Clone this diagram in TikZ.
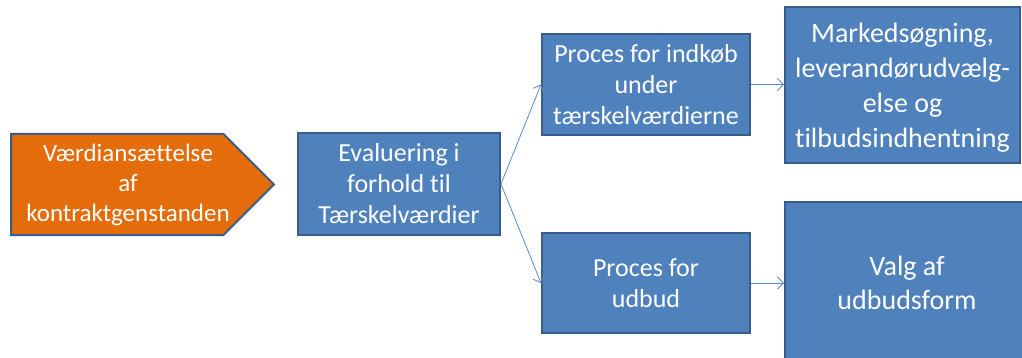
\documentclass[tikz,border=0pt]{standalone}
\usepackage{fontspec}
\setmainfont{Carlito}[Ligatures=NoCommon]
\usetikzlibrary{shapes.symbols, arrows.meta, positioning}

\definecolor{boxblue}{HTML}{4F81BD}
\definecolor{edgeblue}{HTML}{385D8A}
\definecolor{valueorange}{HTML}{E46C0A}
\definecolor{linkblue}{HTML}{5B8BC6}

\tikzset{
    stepbox/.style={draw=edgeblue, fill=boxblue, line width=2pt, text=white,
        align=center, inner sep=2pt},
    link/.style={draw=linkblue, line width=0.8pt, -{Straight Barb[length=6pt,width=12pt]}}
}

\begin{document}
\begin{tikzpicture}[x=1pt, y=-1pt]
    \clip (0,0) rectangle (1022,358);
    \fill[white] (0,0) rectangle (1022,358);
    % Define nodes
    \node[signal, signal to=east, signal pointer angle=90, draw=edgeblue, fill=valueorange,
        line width=2pt, minimum width=263pt, minimum height=101pt, inner sep=1pt,
        anchor=west] (value) at (10,184.5) {};
    \node[text=white, align=center, font=\fontsize{25}{30}\selectfont] (valuetext)
        at (128,184.5) {Værdiansættelse\\af\\kontraktgenstanden};
    \node[stepbox, minimum width=202pt, minimum height=102pt,
        font=\fontsize{26}{31}\selectfont] (eval) at (399,184)
        {Evaluering i\\forhold til\\Tærskelværdier};
    \node[stepbox, minimum width=208pt, minimum height=101pt,
        font=\fontsize{26}{31}\selectfont] (below) at (646,84.5)
        {Proces for indkøb\\under\\tærskelværdierne};
    \node[stepbox, minimum width=208pt, minimum height=100pt,
        font=\fontsize{26}{31}\selectfont] (tender) at (646,283)
        {Proces for\\udbud};
    \node[stepbox, minimum width=235pt, minimum height=156pt, text depth=0pt,
        font=\fontsize{28}{35}\selectfont] (market) at (902.5,85)
        {Markedsøgning,\\leverandørudvælg-\\else og\\tilbudsindhentning};
    \node[stepbox, minimum width=244pt, minimum height=162pt,
        font=\fontsize{28}{34}\selectfont] (form) at (907,283)
        {Valg af\\udbudsform};
    % Draw edges
    \draw[link] (eval.east) -- (below.west);
    \draw[link] (eval.east) -- (tender.west);
    \draw[link] (below.east) -- (market.west |- below.east);
    \draw[link] (tender.east) -- (form.west |- tender.east);
\end{tikzpicture}
\end{document}
